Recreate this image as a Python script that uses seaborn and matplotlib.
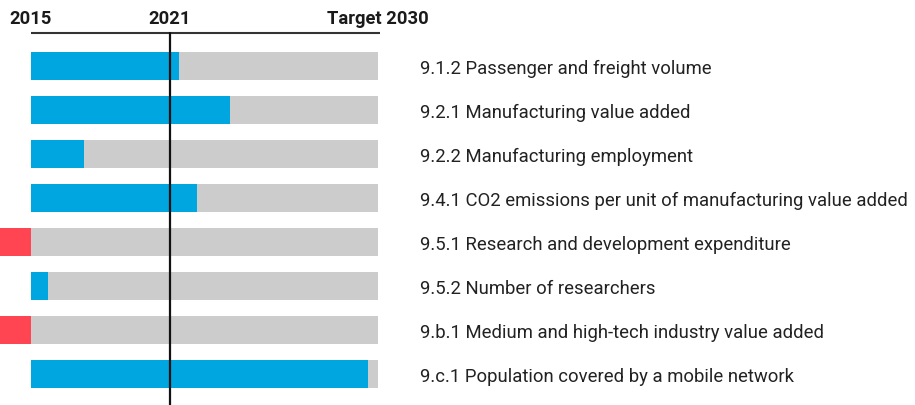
import matplotlib
matplotlib.use("Agg")
import matplotlib.pyplot as plt
import seaborn as sns
import pandas as pd

# indicateurs SDG 9 et progression 2015 -> cible 2030 (0 = 2015, 1 = cible)
indicators = [
    "9.1.2 Passenger and freight volume",
    "9.2.1 Manufacturing value added",
    "9.2.2 Manufacturing employment",
    "9.4.1 CO2 emissions per unit of manufacturing value added",
    "9.5.1 Research and development expenditure",
    "9.5.2 Number of researchers",
    "9.b.1 Medium and high-tech industry value added",
    "9.c.1 Population covered by a mobile network",
]
progress = [0.427, 0.574, 0.154, 0.478, -0.088, 0.049, -0.088, 0.973]
target = [1.0] * len(indicators)

year_start, year_now, year_target = 2015, 2021, 2030
top_labels = ["2015", "2021", "Target 2030"]

blue = "#00A6E0"
red = "#FF4552"
grey = "#CCCCCC"

df = pd.DataFrame({"Indicator": indicators, "Progress": progress, "Target": target})
bar_colors = [red if v < 0 else blue for v in progress]

sns.set_style("white")
plt.rcParams["font.family"] = ["Roboto", "DejaVu Sans"]

fig = plt.figure(figsize=(9.15, 4.06), dpi=100)
ax = fig.add_axes([0, 0, 1, 1])

sns.barplot(data=df, x="Target", y="Indicator", color=grey, width=0.64,
            orient="h", ax=ax, saturation=1, linewidth=0)
sns.barplot(data=df, x="Progress", y="Indicator", hue="Indicator",
            palette=bar_colors, width=0.64, orient="h", ax=ax,
            saturation=1, legend=False, linewidth=0)

# echelle : 0 -> px 30.7, 1 -> px 377.8
px = 347.1
ax.set_xlim(-30.7 / px, (915 - 30.7) / px)
ax.set_ylim((406 - 67) / 44, -67 / 44)

now = (year_now - year_start) / (year_target - year_start)
ax.plot([0, 1.006], [-0.75, -0.75], color="#333333", lw=1.5, solid_capstyle="butt")
ax.plot([now, now], [-0.75, 8], color="#111111", lw=1.6)

for xpos, lab in zip([0, now, 1.0], top_labels):
    ax.text(xpos, -1.1, lab, ha="center", va="center", fontsize=13.2,
            fontweight="bold", color="#1a1a1a")

for i, lab in enumerate(indicators):
    ax.text((420 - 30.7) / px, i + 0.04, lab, ha="left", va="center", fontsize=13.35,
            color="#222222")

ax.set_axis_off()
fig.savefig("out.png", dpi=100)
